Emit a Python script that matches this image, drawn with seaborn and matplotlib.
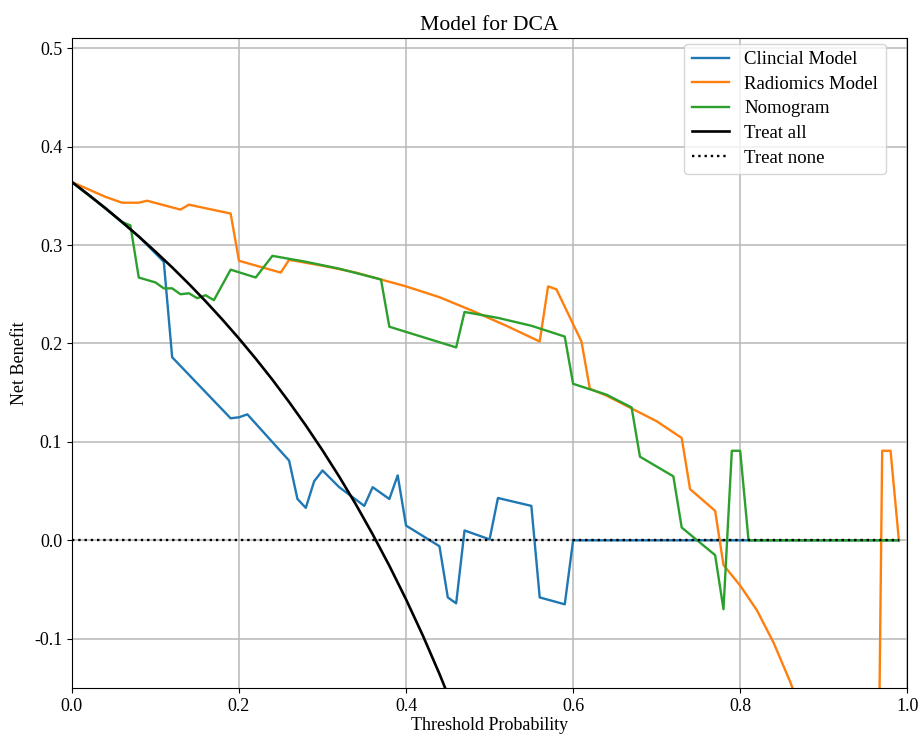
import numpy as np
import pandas as pd
import seaborn as sns
import matplotlib.pyplot as plt

# values
clin_x = [0.00, 0.04, 0.08, 0.11, 0.12, 0.19, 0.20, 0.21, 0.26, 0.27, 0.28, 0.29, 0.30, 0.32,
          0.35, 0.36, 0.38, 0.39, 0.40, 0.44, 0.45, 0.46, 0.47, 0.50, 0.51, 0.55, 0.56, 0.59,
          0.60, 0.99]
clin_y = [0.364, 0.3375, 0.3087, 0.283, 0.186, 0.124, 0.125, 0.128, 0.081, 0.042, 0.033, 0.060,
          0.071, 0.054, 0.035, 0.054, 0.042, 0.066, 0.015, -0.006, -0.058, -0.064, 0.010, 0.001,
          0.043, 0.035, -0.058, -0.065, 0.0, 0.0]

rad_x = [0.00, 0.04, 0.06, 0.08, 0.09, 0.13, 0.14, 0.19, 0.20, 0.25, 0.26, 0.30, 0.34, 0.37,
         0.40, 0.44, 0.48, 0.52, 0.56, 0.57, 0.58, 0.61, 0.62, 0.64, 0.67, 0.70, 0.73, 0.74,
         0.77, 0.78, 0.80, 0.82, 0.84, 0.86, 0.88, 0.90, 0.92, 0.94, 0.96, 0.97, 0.98, 0.99]
rad_y = [0.364, 0.349, 0.343, 0.343, 0.345, 0.336, 0.341, 0.332, 0.284, 0.272, 0.285, 0.279,
         0.272, 0.265, 0.258, 0.247, 0.233, 0.218, 0.202, 0.258, 0.255, 0.202, 0.154, 0.147,
         0.134, 0.121, 0.104, 0.052, 0.030, -0.025, -0.046, -0.071, -0.104, -0.144, -0.19,
         -0.25, -0.33, -0.45, -0.68, 0.091, 0.091, 0.0]

nomo_x = [0.00, 0.03, 0.06, 0.07, 0.08, 0.10, 0.11, 0.12, 0.13, 0.14, 0.15, 0.16, 0.17, 0.19,
          0.22, 0.24, 0.28, 0.32, 0.37, 0.38, 0.46, 0.47, 0.51, 0.55, 0.59, 0.60, 0.64, 0.67,
          0.68, 0.72, 0.73, 0.77, 0.78, 0.79, 0.80, 0.81, 0.99]
nomo_y = [0.364, 0.344, 0.3234, 0.320, 0.267, 0.262, 0.256, 0.256, 0.250, 0.251, 0.246, 0.249,
          0.244, 0.275, 0.267, 0.289, 0.283, 0.276, 0.265, 0.217, 0.196, 0.232, 0.226, 0.218,
          0.207, 0.159, 0.148, 0.135, 0.085, 0.065, 0.013, -0.015, -0.070, 0.091, 0.091, 0.0,
          0.0]

all_x = [0.00, 0.02, 0.04, 0.06, 0.08, 0.10, 0.12, 0.14, 0.16, 0.18, 0.20, 0.22, 0.24, 0.26,
         0.28, 0.30, 0.32, 0.34, 0.36, 0.38, 0.40, 0.42, 0.44, 0.46]
all_y = [0.364, 0.351, 0.3375, 0.3234, 0.3087, 0.2933, 0.2773, 0.2605, 0.2429, 0.2244, 0.205,
         0.1846, 0.1632, 0.1405, 0.1167, 0.0914, 0.0647, 0.0364, 0.0062, -0.0258, -0.060,
         -0.0965, -0.1357, -0.1778]

none_x = [0.0, 0.99]
none_y = [0.0, 0.0]

plt.rcParams['font.family'] = ['Liberation Serif', 'DejaVu Serif']
plt.rcParams['font.size'] = 13
plt.rcParams['axes.unicode_minus'] = False

fig = plt.figure(figsize=(9.22, 7.37), dpi=100)
ax = fig.add_axes([0.078, 0.0665, 0.906, 0.8815])

sns.lineplot(x=clin_x, y=clin_y, ax=ax, color='tab:blue', label='Clincial Model',
             estimator=None, sort=False, lw=1.7)
sns.lineplot(x=rad_x, y=rad_y, ax=ax, color='tab:orange', label='Radiomics Model',
             estimator=None, sort=False, lw=1.7)
sns.lineplot(x=nomo_x, y=nomo_y, ax=ax, color='tab:green', label='Nomogram',
             estimator=None, sort=False, lw=1.7)
sns.lineplot(x=all_x, y=all_y, ax=ax, color='black', label='Treat all',
             estimator=None, sort=False, lw=1.9)
sns.lineplot(x=none_x, y=none_y, ax=ax, color='black', label='Treat none',
             estimator=None, sort=False, lw=1.7, linestyle=':')

ax.set_xlim(0, 1)
ax.set_ylim(-0.15, 0.51)
ax.set_yticks([-0.1, 0.0, 0.1, 0.2, 0.3, 0.4, 0.5])
ax.set_xticks([0.0, 0.2, 0.4, 0.6, 0.8, 1.0])
ax.grid(True, color='#b8b8b8', lw=1.1)
ax.set_axisbelow(True)
ax.set_title('Model for DCA')
ax.set_xlabel('Threshold Probability', labelpad=2)
ax.set_ylabel('Net Benefit')
ax.legend(loc='upper right', bbox_to_anchor=(0.974, 0.992), borderaxespad=0,
          fontsize=13.5, labelspacing=0.4)

fig.savefig('out.png', dpi=100)
